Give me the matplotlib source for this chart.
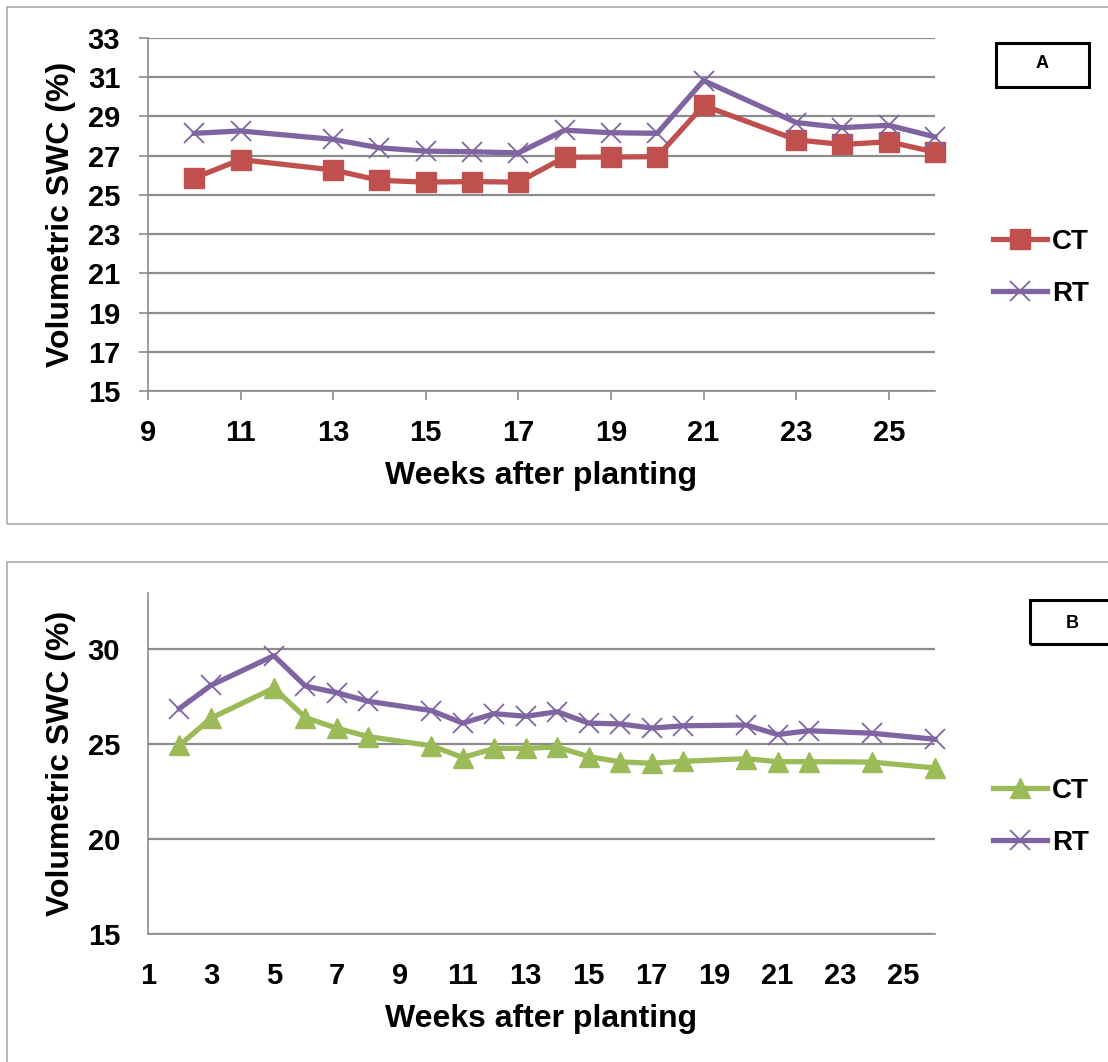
import matplotlib
matplotlib.use("Agg")
import matplotlib.pyplot as plt
from matplotlib.patches import Rectangle

# Panel A: weeks 10-26
weeks_a = [10, 11, 13, 14, 15, 16, 17, 18, 19, 20, 21, 23, 24, 25, 26]
ct_a = [25.86, 26.80, 26.27, 25.74, 25.65, 25.68, 25.65, 26.92, 26.93, 26.95, 29.56, 27.81, 27.57, 27.71, 27.18]
rt_a = [28.14, 28.26, 27.83, 27.40, 27.23, 27.20, 27.14, 28.30, 28.17, 28.14, 30.83, 28.69, 28.43, 28.55, 27.96]

# Panel B: weeks 2-26
weeks_b = [2, 3, 5, 6, 7, 8, 10, 11, 12, 13, 14, 15, 16, 17, 18, 20, 21, 22, 24, 26]
ct_b = [24.93, 26.36, 27.95, 26.39, 25.83, 25.39, 24.91, 24.29, 24.77, 24.77, 24.84, 24.34,
        24.06, 23.99, 24.09, 24.23, 24.07, 24.07, 24.05, 23.74]
rt_b = [26.87, 28.09, 29.65, 28.05, 27.70, 27.25, 26.76, 26.10, 26.60, 26.46, 26.70, 26.10,
        26.06, 25.84, 25.96, 26.00, 25.50, 25.70, 25.57, 25.25]

xticks_a = list(range(9, 26, 2))
yticks_a = list(range(15, 34, 2))
xticks_b = list(range(1, 26, 2))
yticks_b = [15, 20, 25, 30]

W, H = 1108, 1062
RED = "#C0504D"
PURPLE = "#8064A2"
GREEN = "#9BBB59"
GRID = "#8c8c8c"
FONT = "Liberation Sans"

plt.rcParams["font.family"] = [FONT, "DejaVu Sans"]
plt.rcParams["font.weight"] = "bold"

fig = plt.figure(figsize=(W / 100, H / 100), dpi=100)


def fx(px):
    return px / W


def fy(py):
    return 1 - py / H


def axes_px(left, top, right, bottom):
    return fig.add_axes([fx(left), fy(bottom), fx(right) - fx(left), (bottom - top) / H])


# outer panel frames
fig.add_artist(Rectangle((fx(7), fy(524)), fx(1130) - fx(7), (524 - 7) / H,
                         transform=fig.transFigure, fill=False, ec="#aaaaaa", lw=1.2))
fig.add_artist(Rectangle((fx(7), fy(1090)), fx(1130) - fx(7), (1090 - 562) / H,
                         transform=fig.transFigure, fill=False, ec="#aaaaaa", lw=1.2))


def style(ax, xticks, yticks, ylim, tick_len):
    ax.set_xlim(xticks[0], 26)
    ax.set_ylim(*ylim)
    ax.set_xticks(xticks)
    ax.set_yticks(yticks)
    for s in ["top", "right"]:
        ax.spines[s].set_visible(False)
    for s in ["left", "bottom"]:
        ax.spines[s].set_color(GRID)
        ax.spines[s].set_linewidth(1.2)
    ax.grid(axis="y", color=GRID, lw=1.6)
    ax.set_axisbelow(True)
    pad = 20 if tick_len == 0 else 13.5
    ax.tick_params(axis="both", direction="out", length=tick_len, width=1.2, color=GRID,
                   labelsize=21, pad=pad)
    for lab in ax.get_xticklabels() + ax.get_yticklabels():
        lab.set_fontweight("bold")


legend_kw = dict(loc="center left", bbox_transform=fig.transFigure, frameon=False,
                 borderpad=0, borderaxespad=0, handlelength=1.94, handletextpad=0.18,
                 labelspacing=0.95, prop={"family": FONT, "weight": "bold", "size": 20})

# ---- Panel A ----
ax1 = axes_px(148, 38, 935, 391)
style(ax1, xticks_a, yticks_a, (15, 33), 6.5)
ax1.plot(weeks_a, ct_a, color=RED, lw=3.8, marker="s", ms=14, mec=RED, mfc=RED,
         label="CT", clip_on=False, zorder=3)
ax1.plot(weeks_a, rt_a, color=PURPLE, lw=3.8, marker="x", ms=14, mew=1.3, mec=PURPLE,
         label="RT", clip_on=False, zorder=4)
ax1.legend(bbox_to_anchor=(fx(993), fy(268)), **legend_kw)

# ---- Panel B ----
ax2 = axes_px(148, 593, 935, 934)
style(ax2, xticks_b, yticks_b, (15, 32.95), 0)
ax2.plot(weeks_b, ct_b, color=GREEN, lw=3.8, marker="^", ms=15, mec=GREEN, mfc=GREEN,
         label="CT", clip_on=False, zorder=3)
ax2.plot(weeks_b, rt_b, color=PURPLE, lw=3.8, marker="x", ms=14, mew=1.3, mec=PURPLE,
         label="RT", clip_on=False, zorder=4)
ax2.legend(bbox_to_anchor=(fx(993), fy(817)), **legend_kw)

# axis titles
for yc, xl_y in [(214.5, 476), (763.5, 1019)]:
    fig.text(fx(61), fy(yc), "Volumetric SWC (%)", rotation=90, ha="center", va="center",
             fontsize=23, fontweight="bold", family=FONT)
    fig.text(fx(541), fy(xl_y), "Weeks after planting", ha="center", va="center",
             fontsize=23, fontweight="bold", family=FONT)

# panel tags
fig.add_artist(Rectangle((fx(996), fy(87)), fx(1089) - fx(996), 44 / H,
                         transform=fig.transFigure, fill=False, ec="black", lw=2.2))
fig.text(fx(1042), fy(64), "A", ha="center", va="center", fontsize=13, fontweight="bold", family=FONT)
fig.add_artist(Rectangle((fx(1030), fy(644)), fx(1140) - fx(1030), 44 / H,
                         transform=fig.transFigure, fill=False, ec="black", lw=2.2))
fig.text(fx(1072), fy(623), "B", ha="center", va="center", fontsize=13, fontweight="bold", family=FONT)

fig.savefig("out.png", dpi=100)
